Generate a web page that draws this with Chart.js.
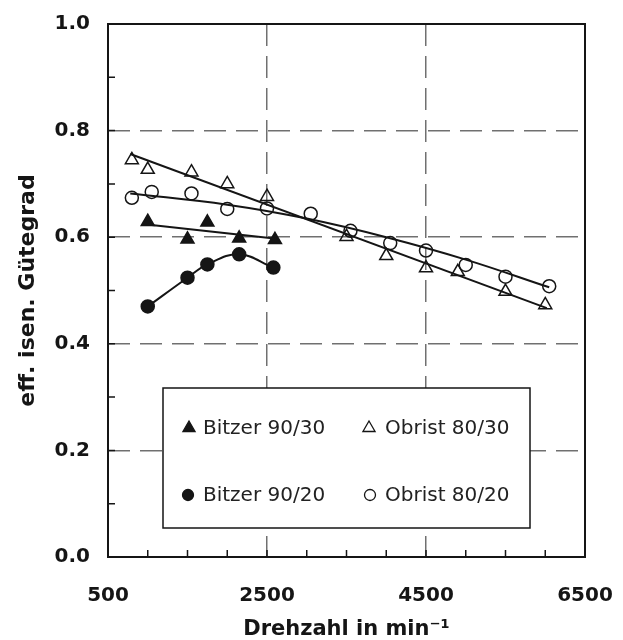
<!DOCTYPE html>
<html>
<head>
<meta charset="utf-8">
<title>Gütegrad</title>
<script src="https://cdn.jsdelivr.net/npm/chart.js"></script>
<style>
  body { margin: 0; background: #fff; }
</style>
</head>
<body>
<canvas id="myChart" width="623" height="640"></canvas>
<script>
const seriesNames = ['Bitzer 90/30', 'Obrist 80/30', 'Bitzer 90/20', 'Obrist 80/20'];

const bitzer30Speed = [1000, 1500, 1750, 2150, 2600];
const bitzer30Eff = [0.629, 0.596, 0.628, 0.598, 0.595];

const bitzer20Speed = [1000, 1500, 1750, 2150, 2580];
const bitzer20Eff = [0.470, 0.524, 0.549, 0.568, 0.543];

const obrist30Speed = [800, 1000, 1550, 2000, 2500, 3500, 4000, 4500, 4900, 5500, 6000];
const obrist30Eff = [0.745, 0.727, 0.722, 0.700, 0.676, 0.601, 0.565, 0.542, 0.535, 0.498, 0.473];

const obrist20Speed = [800, 1050, 1550, 2000, 2500, 3050, 3550, 4050, 4500, 5000, 5500, 6050];
const obrist20Eff = [0.674, 0.685, 0.682, 0.653, 0.654, 0.644, 0.612, 0.589, 0.575, 0.548, 0.526, 0.508];

// Ausgleichslinien
const bitzer30FitSpeed = [990, 2620];
const bitzer30FitEff = [0.624, 0.597];
const obrist30FitSpeed = [780, 6020];
const obrist30FitEff = [0.756, 0.467];
const obrist20FitSpeed = [780, 2000, 3000, 4000, 5000, 6050];
const obrist20FitEff = [0.682, 0.661, 0.635, 0.600, 0.558, 0.506];

// Achsen
const speedTickLabels = [500, 2500, 4500, 6500];
const speedGridLines = [2500, 4500];
const effTickLabels = [0, 0.2, 0.4, 0.6, 0.8, 1.0];
const effGridLines = [0.2, 0.4, 0.6, 0.8];

function toPoints(xs, ys) {
    return xs.map((x, i) => ({ x: x, y: ys[i] }));
}
function near(list, v) {
    return list.some(t => Math.abs(t - v) < 1e-6);
}

const ink = '#151515';
const gridGray = '#707070';

function fitLine(xs, ys, tension) {
    return {
        label: '', data: toPoints(xs, ys), showLine: true, tension: tension,
        borderColor: ink, borderWidth: 2, pointRadius: 0, fill: false
    };
}

function marker(name, xs, ys, style, filled, r) {
    return {
        label: name, data: toPoints(xs, ys), showLine: false,
        pointStyle: style, pointRadius: r,
        pointBackgroundColor: filled ? ink : 'rgba(0,0,0,0)',
        pointBorderColor: ink, pointBorderWidth: 1.5
    };
}

const bitzer20 = marker(seriesNames[2], bitzer20Speed, bitzer20Eff, 'circle', true, 6.5);
bitzer20.showLine = true;
bitzer20.tension = 0.4;
bitzer20.borderColor = ink;
bitzer20.borderWidth = 2;

const datasets = [
    fitLine(obrist30FitSpeed, obrist30FitEff, 0),
    fitLine(obrist20FitSpeed, obrist20FitEff, 0.4),
    fitLine(bitzer30FitSpeed, bitzer30FitEff, 0),
    marker(seriesNames[0], bitzer30Speed, bitzer30Eff, 'triangle', true, 7.5),
    marker(seriesNames[1], obrist30Speed, obrist30Eff, 'triangle', false, 7.5),
    bitzer20,
    marker(seriesNames[3], obrist20Speed, obrist20Eff, 'circle', false, 6.5)
];

// Rahmen, Ticks nach innen und Legende
const framePlugin = {
    id: 'frame',
    afterDraw(chart) {
        const ctx = chart.ctx;
        const a = chart.chartArea;
        const xs = chart.scales.x, ys = chart.scales.y;
        ctx.save();
        ctx.strokeStyle = ink;
        ctx.lineWidth = 1.5;
        ctx.beginPath();
        xs.ticks.forEach(t => {
            const px = xs.getPixelForValue(t.value);
            ctx.moveTo(px, a.bottom);
            ctx.lineTo(px, a.bottom - 7);
        });
        ys.ticks.forEach(t => {
            const py = ys.getPixelForValue(t.value);
            ctx.moveTo(a.left, py);
            ctx.lineTo(a.left + 7, py);
        });
        ctx.stroke();

        ctx.lineWidth = 2;
        ctx.strokeRect(a.left, a.top, a.right - a.left, a.bottom - a.top);

        // Legende
        const bx = a.left + 55, by = 388, bw = 367, bh = 140;
        ctx.fillStyle = '#fff';
        ctx.fillRect(bx, by, bw, bh);
        ctx.lineWidth = 1.5;
        ctx.strokeRect(bx, by, bw, bh);

        const items = [
            { name: seriesNames[0], style: 'triangle', filled: true, r: 7, mx: bx + 26, tx: bx + 40, y: by + 40 },
            { name: seriesNames[1], style: 'triangle', filled: false, r: 7, mx: bx + 206, tx: bx + 222, y: by + 40 },
            { name: seriesNames[2], style: 'circle', filled: true, r: 5.5, mx: bx + 25, tx: bx + 40, y: by + 107 },
            { name: seriesNames[3], style: 'circle', filled: false, r: 5.5, mx: bx + 207, tx: bx + 222, y: by + 107 }
        ];
        items.forEach(it => {
            ctx.fillStyle = it.filled ? ink : 'rgba(0,0,0,0)';
            ctx.strokeStyle = ink;
            ctx.lineWidth = 1.3;
            Chart.helpers.drawPoint(ctx, { pointStyle: it.style, radius: it.r, rotation: 0, borderWidth: 1.3 }, it.mx, it.y);
            ctx.fillStyle = '#222';
            ctx.font = '20px "DejaVu Sans"';
            ctx.textAlign = 'left';
            ctx.textBaseline = 'middle';
            ctx.fillText(it.name, it.tx, it.y + 1);
        });
        ctx.restore();
    }
};

const ctx = document.getElementById('myChart');
new Chart(ctx, {
    type: 'scatter',
    data: { datasets: datasets },
    plugins: [framePlugin],
    options: {
        responsive: false,
        animation: false,
        events: [],
        layout: { padding: { left: 0, right: 38, top: 24, bottom: 0 } },
        plugins: {
            legend: { display: false },
            tooltip: { enabled: false }
        },
        scales: {
            x: {
                type: 'linear',
                min: 500,
                max: 6500,
                afterFit: s => { s.height = 83; s.paddingLeft = 0; s.paddingRight = 0; },
                border: { display: false, dash: [22, 10] },
                grid: {
                    drawTicks: false,
                    lineWidth: 1.5,
                    color: c => near(speedGridLines, c.tick.value) ? gridGray : 'rgba(0,0,0,0)'
                },
                ticks: {
                    stepSize: 500,
                    autoSkip: false,
                    maxRotation: 0,
                    padding: 27,
                    color: ink,
                    font: { family: 'DejaVu Sans', size: 20, weight: 'bold' },
                    callback: v => near(speedTickLabels, v) ? String(v) : ''
                },
                title: {
                    display: true,
                    text: 'Drehzahl in min⁻¹',
                    color: ink,
                    padding: { top: 0, bottom: 0 },
                    font: { family: 'DejaVu Sans', size: 21, weight: 'bold', lineHeight: 1 }
                }
            },
            y: {
                min: 0,
                max: 1,
                afterFit: s => { s.width = 108; s.paddingTop = 0; s.paddingBottom = 0; },
                border: { display: false, dash: [22, 10] },
                grid: {
                    drawTicks: false,
                    lineWidth: 1.5,
                    color: c => near(effGridLines, c.tick.value) ? gridGray : 'rgba(0,0,0,0)'
                },
                ticks: {
                    stepSize: 0.1,
                    autoSkip: false,
                    padding: 18,
                    color: ink,
                    font: { family: 'DejaVu Sans', size: 20, weight: 'bold' },
                    callback: v => near(effTickLabels, v) ? v.toFixed(1) : ''
                },
                title: {
                    display: true,
                    text: 'eff. isen. Gütegrad',
                    color: ink,
                    padding: { top: 17, bottom: 0 },
                    font: { family: 'DejaVu Sans', size: 22, weight: 'bold', lineHeight: 1 }
                }
            }
        }
    }
});
</script>
</body>
</html>
